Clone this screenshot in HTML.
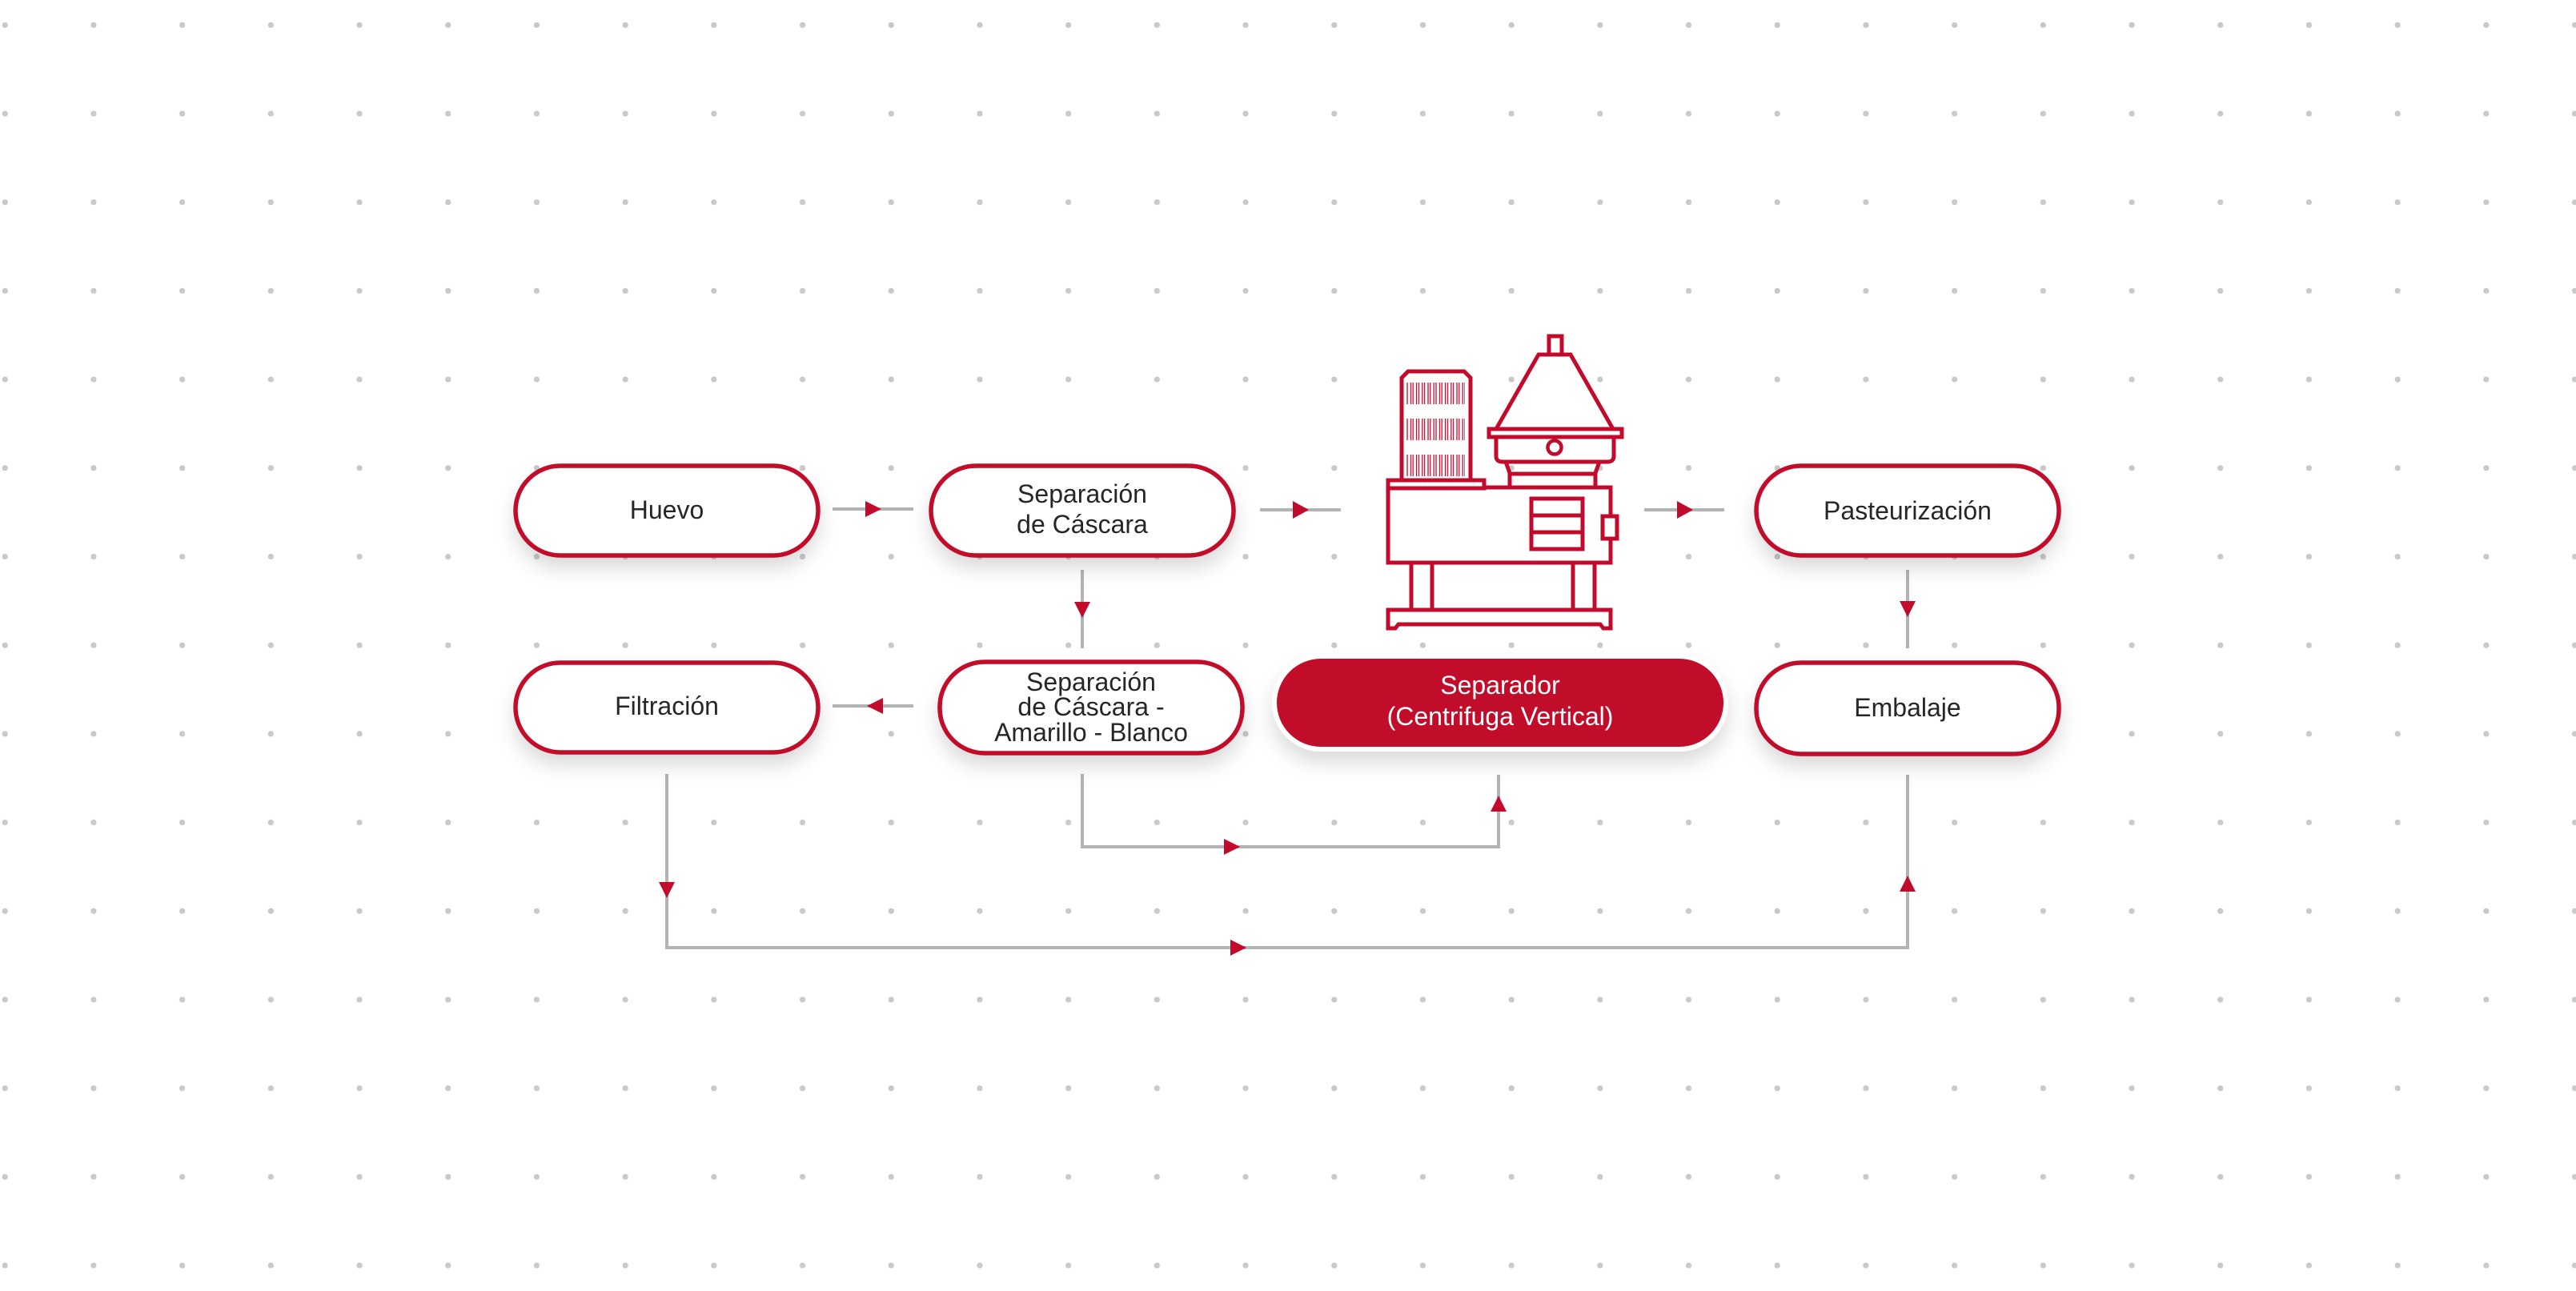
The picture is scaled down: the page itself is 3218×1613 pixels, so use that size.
<!DOCTYPE html>
<html><head><meta charset="utf-8"><style>
html,body{margin:0;padding:0;background:#fff}
body{width:3218px;height:1613px;overflow:hidden;position:relative}
svg{position:absolute;left:0;top:0}
text{font-family:"Liberation Sans",sans-serif;font-size:32px;text-anchor:middle;fill:#262626}
</style></head><body>
<svg width="3218" height="1613" viewBox="0 0 3218 1613" xmlns="http://www.w3.org/2000/svg">
<defs>
<pattern id="dots" x="6" y="31" width="110.7" height="110.7" patternUnits="userSpaceOnUse">
<circle cx="0.5" cy="0.5" r="3.3" fill="#c8c8c8"/>
</pattern>
<pattern id="dots2" x="6" y="31" width="110.7" height="110.7" patternUnits="userSpaceOnUse">
<circle cx="110.7" cy="0.5" r="3.3" fill="#c8c8c8"/><circle cx="0.5" cy="110.7" r="3.3" fill="#c8c8c8"/><circle cx="110.7" cy="110.7" r="3.3" fill="#c8c8c8"/>
</pattern>
<filter id="sh" x="-20%" y="-30%" width="140%" height="180%">
<feDropShadow dx="0" dy="14" stdDeviation="12" flood-color="#000" flood-opacity="0.14"/>
</filter>
<pattern id="fins" x="1757" y="0" width="7.2" height="400" patternUnits="userSpaceOnUse">
<rect x="1" y="0" width="4.4" height="400" fill="none" stroke="#c20b2c" stroke-width="1.3"/>
</pattern>
</defs>
<rect x="0" y="0" width="3218" height="1613" fill="url(#dots)"/>
<rect x="0" y="0" width="3218" height="1613" fill="url(#dots2)"/>

<g stroke="#b3b3b3" stroke-width="4" fill="none">
<line x1="1040" y1="636" x2="1141" y2="636"/>
<line x1="1574" y1="637" x2="1675" y2="637"/>
<line x1="2054" y1="637" x2="2154" y2="637"/>
<line x1="1352" y1="712" x2="1352" y2="810"/>
<line x1="1040" y1="882" x2="1141" y2="882"/>
<line x1="2383" y1="712" x2="2383" y2="810"/>
<polyline points="1352,967 1352,1058 1872,1058 1872,968"/>
<polyline points="833,967 833,1184 2383,1184 2383,968"/>
</g>
<g fill="#c20b2c">
<polygon points="1081,626 1101,636 1081,646"/>
<polygon points="1615,626 1635,637 1615,648"/>
<polygon points="2095,626 2115,637 2095,648"/>
<polygon points="1342,752 1362,752 1352,772"/>
<polygon points="1103,872 1083,882 1103,892"/>
<polygon points="2373,751 2393,751 2383,771"/>
<polygon points="1529,1048 1549,1058 1529,1068"/>
<polygon points="1862,1014 1882,1014 1872,994"/>
<polygon points="823,1102 843,1102 833,1122"/>
<polygon points="1537,1174 1557,1184 1537,1194"/>
<polygon points="2373,1114 2393,1114 2383,1094"/>
</g>

<g filter="url(#sh)">
<rect x="644" y="582" width="378" height="112" rx="56" fill="#fff" stroke="#c20b2c" stroke-width="5.5"/>
<rect x="1163" y="582" width="378" height="112" rx="56" fill="#fff" stroke="#c20b2c" stroke-width="5.5"/>
<rect x="2194" y="582" width="378" height="112" rx="56" fill="#fff" stroke="#c20b2c" stroke-width="5.5"/>
<rect x="644" y="828" width="378" height="112" rx="56" fill="#fff" stroke="#c20b2c" stroke-width="5.5"/>
<rect x="1174" y="827" width="378" height="114" rx="56" fill="#fff" stroke="#c20b2c" stroke-width="5.5"/>
<rect x="2194" y="828" width="378" height="114" rx="56" fill="#fff" stroke="#c20b2c" stroke-width="5.5"/>
<rect x="1592" y="820" width="564" height="116" rx="58" fill="#c20b2c" stroke="#fff" stroke-width="6"/>
</g>
<text x="833" y="648">Huevo</text>
<text x="1352" y="628">Separación</text>
<text x="1352" y="666">de Cáscara</text>
<text x="2383" y="649">Pasteurización</text>
<text x="833" y="893">Filtración</text>
<text x="1363" y="863">Separación</text>
<text x="1363" y="894">de Cáscara -</text>
<text x="1363" y="926">Amarillo - Blanco</text>
<text x="2383" y="895">Embalaje</text>
<text x="1874" y="867" style="fill:#fff">Separador</text>
<text x="1874" y="906" style="fill:#fff">(Centrifuga Vertical)</text>

<g fill="none" stroke="#c20b2c" stroke-width="5">
<path d="M1734 785 L1734 762 L2012 762 L2012 785 L2003 785 L1999 780 L1747 780 L1743 785 Z" fill="#fff"/>
<rect x="1763" y="703" width="26" height="59" fill="#fff"/>
<rect x="1965" y="703" width="27" height="59" fill="#fff"/>
<rect x="1734" y="609" width="278" height="94" fill="#fff"/>
<rect x="1734" y="600" width="120" height="10" fill="#fff"/>
<path d="M1751 600 L1751 472 L1759 464 L1829 464 L1837 472 L1837 600 Z" fill="#fff"/>
<rect x="1913" y="623" width="64" height="63"/>
<line x1="1913" y1="644" x2="1977" y2="644"/>
<line x1="1913" y1="665" x2="1977" y2="665"/>
<rect x="2002" y="645" width="18" height="28" fill="#fff"/>
<path d="M1886 609 L1886 591 L1881 577 L1998 577 L1993 591 L1993 609"/>
<line x1="1886" y1="592" x2="1993" y2="592"/>
<path d="M1869 546 L1869 570 Q1869 577 1877 577 L2008 577 Q2016 577 2016 570 L2016 546"/>
<rect x="1860" y="536" width="166" height="10" fill="#fff"/>
<path d="M1869 536 L1922 443 L1962 443 L2015 536"/>
<rect x="1935" y="420" width="16" height="23" fill="#fff"/>
<circle cx="1942" cy="559" r="8.5" stroke-width="4.5"/>
</g>
<rect x="1757" y="478" width="73" height="27" fill="url(#fins)"/>
<rect x="1757" y="523" width="73" height="27" fill="url(#fins)"/>
<rect x="1757" y="568" width="73" height="27" fill="url(#fins)"/>
</svg>
</body></html>
